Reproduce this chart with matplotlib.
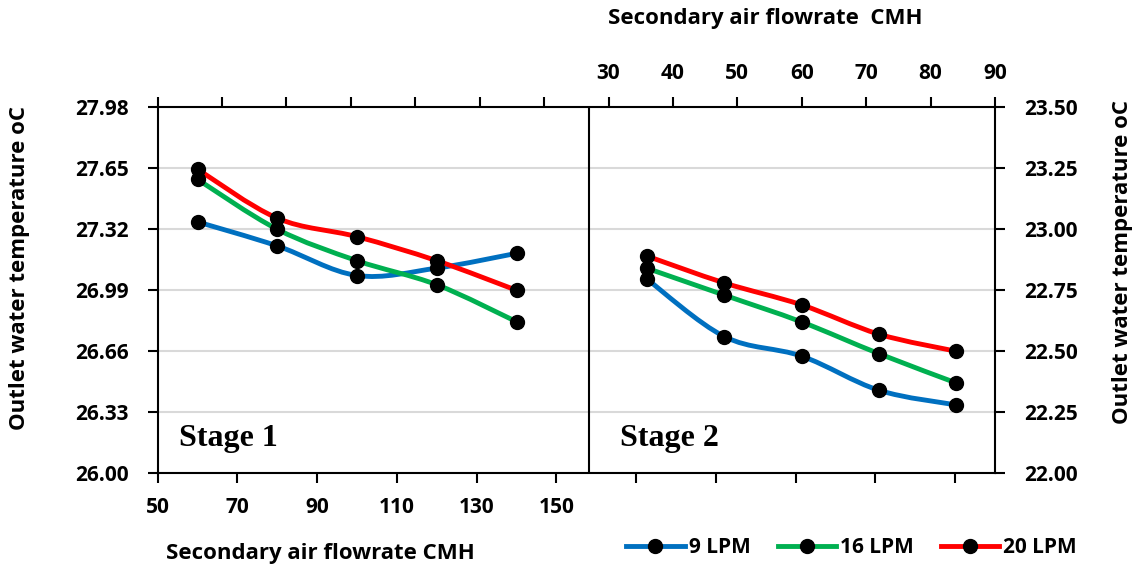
import matplotlib
matplotlib.use("Agg")
import matplotlib.pyplot as plt
from matplotlib.path import Path
from matplotlib.patches import PathPatch
from matplotlib.lines import Line2D

# ---------------- data ----------------
series_names = ["9 LPM", "16 LPM", "20 LPM"]
series_colors = ["#0070C0", "#00B050", "#FF0000"]

# stage 1 : bottom x axis, left y axis
stage1_x = [60, 80, 100, 120, 140]
stage1_9 = [27.36, 27.23, 27.07, 27.11, 27.19]
stage1_16 = [27.59, 27.32, 27.15, 27.02, 26.82]
stage1_20 = [27.645, 27.38, 27.28, 27.15, 26.99]

# stage 2 : top x axis, right y axis
stage2_x = [36, 48, 60, 72, 84]
stage2_9 = [22.795, 22.56, 22.48, 22.34, 22.28]
stage2_16 = [22.84, 22.73, 22.62, 22.49, 22.37]
stage2_20 = [22.89, 22.78, 22.69, 22.57, 22.50]

left_ticks = [26.00, 26.33, 26.66, 26.99, 27.32, 27.65, 27.98]
right_ticks = [22.00, 22.25, 22.50, 22.75, 23.00, 23.25, 23.50]
bottom_ticks = list(range(50, 251, 20))
bottom_labels = [str(t) if t <= 150 else "" for t in bottom_ticks]
top_ticks = list(range(-40, 91, 10))
top_labels = [str(t) if t >= 30 else "" for t in top_ticks]

FONT = "Open Sans"
plt.rcParams["font.family"] = [FONT, "DejaVu Sans"]
plt.rcParams["font.weight"] = "bold"
FS_TICK = 15
FS_LAB = 16


def smooth_path(xs, ys):
    # excel style smoothed line: catmull-rom segments as cubic beziers
    pts = list(zip(xs, ys))
    verts = [pts[0]]
    codes = [Path.MOVETO]
    n = len(pts)
    for i in range(n - 1):
        p0 = pts[i - 1] if i > 0 else pts[i]
        p1 = pts[i]
        p2 = pts[i + 1]
        p3 = pts[i + 2] if i + 2 < n else pts[i + 1]
        c1 = (p1[0] + (p2[0] - p0[0]) / 6, p1[1] + (p2[1] - p0[1]) / 6)
        c2 = (p2[0] - (p3[0] - p1[0]) / 6, p2[1] - (p3[1] - p1[1]) / 6)
        verts += [c1, c2, p2]
        codes += [Path.CURVE4] * 3
    return Path(verts, codes)


def draw_series(ax, xs, ys, color):
    ax.add_patch(PathPatch(smooth_path(xs, ys), facecolor="none",
                           edgecolor=color, lw=3.5, zorder=3, capstyle="round"))
    ax.plot(xs, ys, ls="none", marker="o", ms=10, color="black", zorder=4)


fig = plt.figure(figsize=(11.4, 5.72), dpi=100)
rect = [0.1383, 0.1726, 0.8728 - 0.1383, 0.8124 - 0.1726]
ax = fig.add_axes(rect)
ax2 = fig.add_axes(rect, frameon=False)

# left / bottom
ax.set_xlim(50, 260)
ax.set_ylim(26.0, 27.98)
ax.set_xticks(bottom_ticks)
ax.set_xticklabels(bottom_labels)
ax.set_yticks(left_ticks)
ax.set_yticklabels(["%.2f" % t for t in left_ticks])
ax.yaxis.grid(True, color="#d9d9d9", lw=1.5)
ax.set_axisbelow(True)

# right / top
ax2.set_xlim(-40, 90)
ax2.set_ylim(22.0, 23.5)
ax2.xaxis.tick_top()
ax2.yaxis.tick_right()
ax2.set_xticks(top_ticks)
ax2.set_xticklabels(top_labels)
ax2.set_yticks(right_ticks)
ax2.set_yticklabels(["%.2f" % t for t in right_ticks])

for a in (ax, ax2):
    a.tick_params(direction="out", length=7, width=1.5, labelsize=FS_TICK)
    a.tick_params(axis="y", pad=14)
    a.tick_params(axis="x", pad=10)
for s in ax.spines.values():
    s.set_linewidth(1.5)

stage1 = [stage1_9, stage1_16, stage1_20]
stage2 = [stage2_9, stage2_16, stage2_20]
for ys, c in zip(stage1, series_colors):
    draw_series(ax, stage1_x, ys, c)
for ys, c in zip(stage2, series_colors):
    draw_series(ax2, stage2_x, ys, c)

# divider between the two stages
ax2.axvline(26.9, color="black", lw=1.5, zorder=2)

ax.text(0.025, 0.075, "Stage 1", transform=ax.transAxes, fontsize=23,
        fontweight="bold", family="Liberation Serif")
ax.text(0.552, 0.075, "Stage 2", transform=ax.transAxes, fontsize=23,
        fontweight="bold", family="Liberation Serif")

fig.text(0.0175, 0.531, "Outlet water temperature oC", fontsize=FS_LAB,
         rotation=90, ha="center", va="center")
fig.text(0.985, 0.542, "Outlet water temperature oC", fontsize=FS_LAB,
         rotation=90, ha="center", va="center")
fig.text(0.671, 0.967, "Secondary air flowrate  CMH", fontsize=FS_LAB,
         ha="center", va="center")
fig.text(0.281, 0.033, "Secondary air flowrate CMH", fontsize=FS_LAB,
         ha="center", va="center")

handles = [Line2D([], [], color=c, lw=3.5, marker="o", ms=10,
                  markerfacecolor="black", markeredgecolor="black")
           for c in series_colors]
fig.legend(handles, series_names, loc="center", bbox_to_anchor=(0.747, 0.042),
           ncol=3, frameon=False, fontsize=FS_TICK, handlelength=2.8,
           columnspacing=1.3, handletextpad=0.2)

fig.savefig("out.png", dpi=100)
